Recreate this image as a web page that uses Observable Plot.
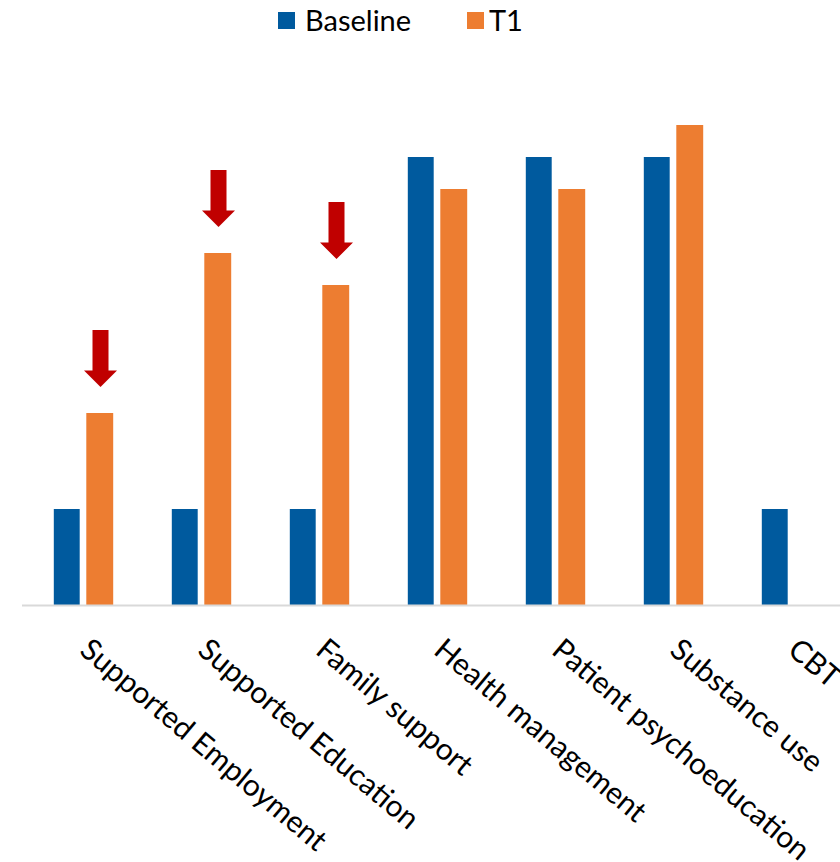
<!DOCTYPE html>
<html>
<head>
<meta charset="utf-8">
<script src="https://cdn.jsdelivr.net/npm/d3@7"></script>
<script src="https://cdn.jsdelivr.net/npm/@observablehq/plot@0.6"></script>
<style>
  html, body { margin: 0; padding: 0; background: #fff; width: 840px; height: 862px; overflow: hidden; }
  #legend { position: relative; height: 40px; font-family: Lato, sans-serif; font-size: 29px; color: #000; }
  .sw { position: absolute; top: 12px; width: 17px; height: 17px; }
  .lt { position: absolute; top: 0; line-height: 40px; }
</style>
</head>
<body>
<div id="legend"></div>
<div id="chart"></div>
<script>
const categories = ["Supported Employment", "Supported Education", "Family support", "Health management", "Patient psychoeducation", "Substance use", "CBT"];
const seriesNames = ["Baseline", "T1"];
const baselineValues = [3, 3, 3, 14, 14, 14, 3];
const t1Values = [6, 11, 10, 13, 13, 15, 0];
const arrowCategories = ["Supported Employment", "Supported Education", "Family support"];
const colors = ["#005A9E", "#ED7D31"];

const baseData = categories.map((c, i) => ({category: c, value: baselineValues[i]}));
const t1Data = categories.map((c, i) => ({category: c, value: t1Values[i]}));
const arrowData = arrowCategories.map(c => ({category: c, value: t1Values[categories.indexOf(c)]}));

// legend
const legend = document.getElementById("legend");
const swatchLefts = [278, 467];
const textLefts = [305, 489];
seriesNames.forEach((s, i) => {
  const sw = document.createElement("div");
  sw.className = "sw";
  sw.style.left = swatchLefts[i] + "px";
  sw.style.background = colors[i];
  const tx = document.createElement("span");
  tx.className = "lt";
  tx.style.left = textLefts[i] + "px";
  tx.textContent = s;
  legend.appendChild(sw); legend.appendChild(tx);
});

const downArrow = {
  draw(context) {
    // block arrow centered at origin, pointing down
    context.moveTo(-8, -28.5);
    context.lineTo(8, -28.5);
    context.lineTo(8, 12);
    context.lineTo(16.5, 12);
    context.lineTo(0, 28.5);
    context.lineTo(-16.5, 12);
    context.lineTo(-8, 12);
    context.closePath();
  }
};

const chart = Plot.plot({
  width: 852,
  height: 822,
  marginLeft: 22,
  marginRight: 0,
  marginTop: 85,
  marginBottom: 257,
  x: {type: "band", domain: categories, padding: 0, axis: null},
  y: {domain: [0, 15], axis: null},
  marks: [
    Plot.barY(baseData, {x: "category", y: "value", fill: colors[0], insetLeft: 29.8, insetRight: 62.3}),
    Plot.barY(t1Data, {x: "category", y: "value", fill: colors[1], insetLeft: 62.3, insetRight: 28.8}),
    Plot.ruleY([0], {stroke: "#d9d9d9", strokeWidth: 2}),
    Plot.dot(arrowData, {x: "category", y: "value", symbol: downArrow, fill: "#C00000", stroke: "none", dx: 17, dy: -55}),
    Plot.text(categories, {x: d => d, y: () => 0, text: d => d, rotate: 40, textAnchor: "start", lineAnchor: "middle", dx: 1, dy: 40, fontSize: 30, fontFamily: "Lato", fill: "#000"})
  ]
});
chart.style.display = "block";
chart.style.maxWidth = "none";
chart.style.width = "852px";
chart.style.height = "822px";
document.getElementById("chart").appendChild(chart);
</script>
</body>
</html>
